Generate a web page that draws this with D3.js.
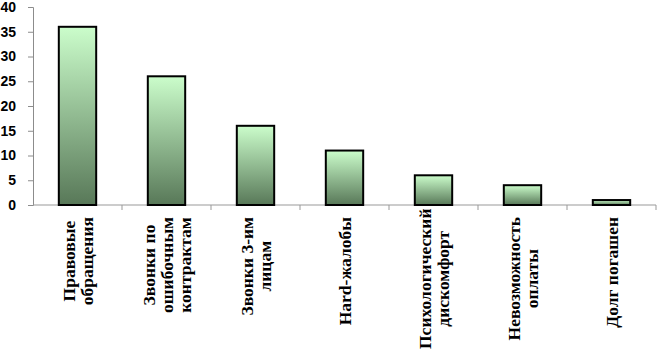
<!DOCTYPE html>
<html>
<head>
<meta charset="utf-8">
<script src="https://cdn.jsdelivr.net/npm/d3@7"></script>
<style>
  body { margin: 0; background: #fff; }
</style>
</head>
<body>
<div id="chart"></div>
<script>
// categories (lines of each label) and values
const categories = [
  ["Правовые", "обращения"],
  ["Звонки по", "ошибочным", "контрактам"],
  ["Звонки 3-им", "лицам"],
  ["Hard-жалобы"],
  ["Психологический", "дискомфорт"],
  ["Невозможность", "оплаты"],
  ["Долг погашен"]
];
const values = [36, 26, 16, 11, 6, 4, 1];
const yTicks = [0, 5, 10, 15, 20, 25, 30, 35, 40];

const width = 658, height = 350;
const margin = { top: 7, right: 2, bottom: 145, left: 33 };

const svg = d3.select("#chart").append("svg")
  .attr("width", width)
  .attr("height", height);

const defs = svg.append("defs");
const grad = defs.append("linearGradient")
  .attr("id", "barGrad")
  .attr("x1", 0).attr("y1", 0).attr("x2", 0).attr("y2", 1);
grad.append("stop").attr("offset", "0%").attr("stop-color", "#cbfdcb");
grad.append("stop").attr("offset", "100%").attr("stop-color", "#587858");

const x = d3.scaleBand()
  .domain(d3.range(categories.length))
  .range([margin.left, width - margin.right])
  .paddingInner(0.58)
  .paddingOuter(0.29);

const y = d3.scaleLinear()
  .domain([0, 40])
  .range([height - margin.bottom, margin.top]);

// y axis
const yAxis = svg.append("g")
  .attr("transform", `translate(${margin.left},0)`)
  .call(d3.axisLeft(y).tickValues(yTicks).tickSize(5).tickPadding(12));
yAxis.selectAll("path, line").attr("stroke", "#8c8c8c");
yAxis.selectAll("text")
  .attr("fill", "#000")
  .style("font", "bold 14px 'Liberation Sans', Arial, sans-serif");

// x axis line + category ticks at band boundaries
const x0 = margin.left, x1 = width - margin.right;
svg.append("line")
  .attr("x1", x0).attr("x2", x1)
  .attr("y1", y(0)).attr("y2", y(0))
  .attr("stroke", "#999");
svg.append("g").selectAll("line")
  .data(d3.range(1, categories.length + 1))
  .join("line")
  .attr("x1", d => x0 + d * (x1 - x0) / categories.length)
  .attr("x2", d => x0 + d * (x1 - x0) / categories.length)
  .attr("y1", y(0)).attr("y2", y(0) + 5)
  .attr("stroke", "#999");

// bars
svg.append("g").selectAll("rect")
  .data(values)
  .join("rect")
  .attr("x", (d, i) => x(i))
  .attr("width", x.bandwidth())
  .attr("y", d => y(d))
  .attr("height", d => y(0) - y(d))
  .attr("fill", "url(#barGrad)")
  .attr("stroke", "#000")
  .attr("stroke-width", 2);

// rotated category labels
const lineH = 18;
const labelTop = 217;
const labels = svg.append("g").selectAll("g")
  .data(categories)
  .join("g");

labels.each(function (lines, k) {
  const g = d3.select(this);
  const n = lines.length;
  const texts = g.selectAll("text")
    .data(lines)
    .join("text")
    .attr("text-anchor", "middle")
    .attr("dominant-baseline", "central")
    .attr("y", (d, i) => (i - (n - 1) / 2) * lineH)
    .style("font", "bold 17.5px 'Liberation Serif', 'Times New Roman', serif")
    .text(d => d);
  let maxLen = 0;
  texts.each(function () { maxLen = Math.max(maxLen, this.getComputedTextLength()); });
  texts.attr("x", -maxLen / 2);
  const top = Math.min(labelTop, height - 1 - maxLen);
  g.attr("transform", `translate(${x(k) + x.bandwidth() / 2},${top}) rotate(-90)`);
});
</script>
</body>
</html>
